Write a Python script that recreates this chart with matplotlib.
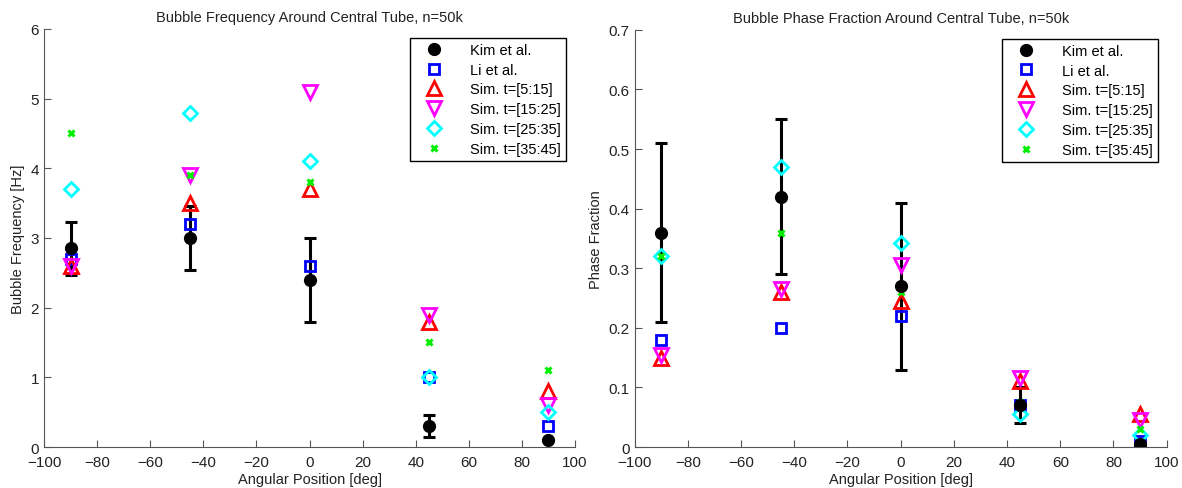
import numpy as np
import matplotlib
matplotlib.use('Agg')
import matplotlib.pyplot as plt
from matplotlib.lines import Line2D
from matplotlib.ticker import FuncFormatter

plt.rcParams['font.family'] = ['Liberation Sans', 'DejaVu Sans']

angles = [-90, -45, 0, 45, 90]

# bubble frequency [Hz]
kim_freq = [2.85, 3.0, 2.4, 0.3, 0.1]
kim_freq_err = [0.38, 0.46, 0.6, 0.16, 0.0]
li_freq = [2.7, 3.2, 2.6, 1.0, 0.3]
sim1_freq = [2.6, 3.5, 3.7, 1.8, 0.8]
sim2_freq = [2.6, 3.9, 5.1, 1.9, 0.6]
sim3_freq = [3.7, 4.8, 4.1, 1.0, 0.5]
sim4_freq = [4.5, 3.9, 3.8, 1.5, 1.1]

# phase fraction
kim_frac = [0.36, 0.42, 0.27, 0.07, 0.005]
kim_frac_err = [0.15, 0.13, 0.14, 0.03, 0.0]
li_frac = [0.18, 0.20, 0.22, 0.07, 0.01]
sim1_frac = [0.15, 0.26, 0.245, 0.11, 0.055]
sim2_frac = [0.155, 0.265, 0.305, 0.115, 0.045]
sim3_frac = [0.32, 0.47, 0.342, 0.055, 0.02]
sim4_frac = [0.32, 0.36, 0.26, 0.075, 0.03]

labels = ['Kim et al.', 'Li et al.', 'Sim. t=[5:15]', 'Sim. t=[15:25]',
          'Sim. t=[25:35]', 'Sim. t=[35:45]']


def draw(ax, kim, kim_err, li, s1, s2, s3, s4):
    ax.errorbar(angles, kim, yerr=kim_err, fmt='o', color='black', ms=8.5,
                elinewidth=2.2, capsize=4, capthick=2.2)
    h = [Line2D([], [], ls='none', marker='o', color='black', ms=8.5)]
    h += ax.plot(angles, li, 's', mfc='none', mec='#0000ff', mew=2, ms=7.5)
    h += ax.plot(angles, s1, '^', mfc='none', mec='#ff0000', mew=2, ms=10)
    h += ax.plot(angles, s2, 'v', mfc='none', mec='#ff00ff', mew=2, ms=10)
    h += ax.plot(angles, s3, 'D', mfc='none', mec='#00ffff', mew=2, ms=7)
    h += ax.plot(angles, s4, 'x', color='#00ee00', mew=2.2, ms=5)

    ax.set_xlim(-100, 100)
    ax.set_xticks(np.arange(-100, 101, 20))
    ax.set_xlabel('Angular Position [deg]', fontsize=10.5, color='#222222', labelpad=2)
    for s in ['top', 'right']:
        ax.spines[s].set_visible(False)
    for s in ['left', 'bottom']:
        ax.spines[s].set_color('#555555')
    ax.tick_params(direction='in', length=5, labelsize=11, colors='#555555',
                   labelcolor='#222222')
    ax.tick_params(axis='x', pad=6)
    leg = ax.legend(h, labels, loc='upper right', fontsize=10.5, frameon=True,
                    fancybox=False, edgecolor='black', framealpha=1,
                    borderaxespad=0.6, handletextpad=1.2, labelspacing=0.4,
                    borderpad=0.35, handlelength=2.6)
    leg.get_frame().set_linewidth(1)


fig = plt.figure(figsize=(11.82, 4.89), dpi=100)
ax1 = fig.add_axes([0.0372, 0.0838, 0.4493, 0.855])
ax2 = fig.add_axes([0.537, 0.0838, 0.450, 0.853])

draw(ax1, kim_freq, kim_freq_err, li_freq, sim1_freq, sim2_freq, sim3_freq, sim4_freq)
ax1.set_ylim(0, 6)
ax1.set_yticks(np.arange(0, 7, 1))
ax1.set_ylabel('Bubble Frequency [Hz]', fontsize=10.5, color='#222222')
ax1.set_title('Bubble Frequency Around Central Tube, n=50k', fontsize=10.5, color='#222222')

draw(ax2, kim_frac, kim_frac_err, li_frac, sim1_frac, sim2_frac, sim3_frac, sim4_frac)
ax2.set_ylim(0, 0.7)
ax2.set_yticks(np.arange(0, 0.71, 0.1))
ax2.yaxis.set_major_formatter(FuncFormatter(lambda v, p: '%g' % round(v, 2)))
ax2.set_ylabel('Phase Fraction', fontsize=10.5, color='#222222')
ax2.set_title('Bubble Phase Fraction Around Central Tube, n=50k', fontsize=10.5, color='#222222')

fig.savefig('out.png', dpi=100)
